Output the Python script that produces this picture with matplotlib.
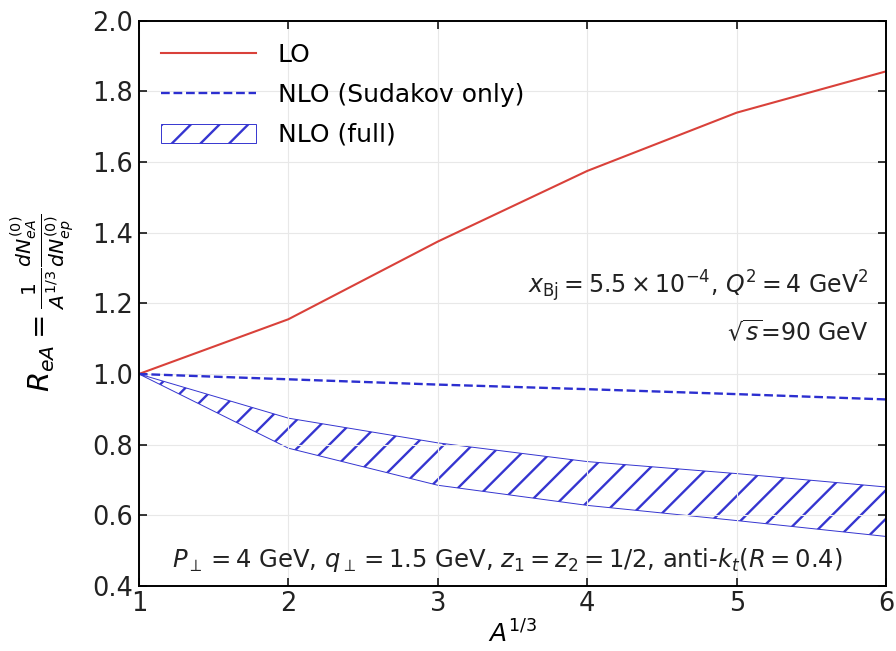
import matplotlib
matplotlib.use("Agg")
import matplotlib.pyplot as plt

# A^{1/3} values
a13 = [1, 2, 3, 4, 5, 6]
lo = [1.0, 1.155, 1.375, 1.575, 1.74, 1.857]
nlo_sud = [1.0, 0.985, 0.97, 0.957, 0.943, 0.928]
nlo_full_hi = [1.0, 0.875, 0.805, 0.752, 0.718, 0.68]
nlo_full_lo = [1.0, 0.79, 0.685, 0.628, 0.585, 0.54]

# high dpi so the hatch is as sparse as in the paper figure;
# sizes below are given as "points at 100 dpi" and scaled down
DPI = 172
k = 100.0 / DPI

plt.rcParams["hatch.linewidth"] = 1.7 * k

fig = plt.figure(figsize=(896 / DPI, 651 / DPI), dpi=DPI)
ax = fig.add_axes([0.155, 0.1, 0.834, 0.868])

ax.plot(a13, lo, color="#d9413a", lw=1.5 * k, label="LO")
ax.plot(a13, nlo_sud, color="#2c2fd0", lw=1.7 * k, ls="--", label="NLO (Sudakov only)")
ax.fill_between(a13, nlo_full_lo, nlo_full_hi, facecolor="none", edgecolor="#3535d0",
                hatch="//", lw=0.7 * k, label="NLO (full)")

ax.set_xlim(1, 6)
ax.set_ylim(0.4, 2.0)
ax.set_xticks(a13)
ax.set_yticks([0.4, 0.6, 0.8, 1.0, 1.2, 1.4, 1.6, 1.8, 2.0])
ax.tick_params(direction="in", top=True, right=True, labelsize=18.5 * k,
               length=6 * k, width=1.1 * k, pad=4 * k, labelcolor="#222222")
ax.grid(color="#e8e8e8", lw=0.8 * k)
for s in ax.spines.values():
    s.set_linewidth(1.4 * k)

ax.set_xlabel("$A^{1/3}$", fontsize=18 * k, labelpad=2 * k)
ax.set_ylabel(r"$R_{eA}=\frac{1}{A^{1/3}}\frac{dN^{(0)}_{eA}}{dN^{(0)}_{ep}}$",
              fontsize=21 * k, labelpad=12 * k)

ax.text(0.976, 0.531, r"$x_{\rm Bj}=5.5\times10^{-4}$, $Q^2=4$ GeV$^2$", transform=ax.transAxes,
        ha="right", va="center", fontsize=17 * k, color="#222222")
ax.text(0.976, 0.448, r"$\sqrt{s}$=90 GeV", transform=ax.transAxes,
        ha="right", va="center", fontsize=17 * k, color="#222222")
ax.text(0.493, 0.046, r"$P_\perp=4$ GeV, $q_\perp=1.5$ GeV, $z_1=z_2=1/2$, anti-$k_t(R=0.4)$",
        transform=ax.transAxes, ha="center", va="center", fontsize=17.5 * k, color="#222222")

ax.legend(loc="upper left", frameon=False, fontsize=18 * k, handlelength=3.8,
          handleheight=0.8, handletextpad=0.85, labelspacing=0.63)

fig.savefig("out.png", dpi=DPI)
